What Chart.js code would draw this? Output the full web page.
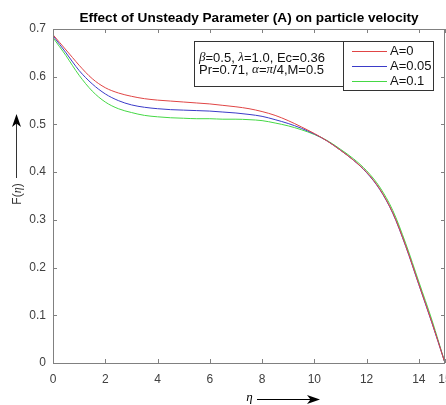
<!DOCTYPE html>
<html><head><meta charset="utf-8">
<script src="https://cdn.jsdelivr.net/npm/chart.js@4/dist/chart.umd.min.js"></script>
<style>html,body{margin:0;padding:0;background:#fff;overflow:hidden}</style>
</head><body>
<canvas id="c" width="446" height="405"></canvas>
<script>
// ---- data ----
const eta   = [0, 0.25, 0.5, 0.75, 1, 1.5, 2, 2.5, 3, 3.5, 4, 4.5, 5, 5.5, 6, 6.5, 7, 7.5, 8, 8.5, 9, 9.5, 10, 10.5, 11, 11.5, 12, 12.5, 13, 13.5, 14, 14.5, 15];
const fA0   = [0.688, 0.672, 0.656, 0.640, 0.624, 0.596, 0.577, 0.566, 0.559, 0.554, 0.551, 0.549, 0.547, 0.545, 0.543, 0.540, 0.537, 0.533, 0.527, 0.519, 0.508, 0.495, 0.481, 0.465, 0.446, 0.425, 0.400, 0.365, 0.315, 0.245, 0.165, 0.085, 0];
const fA005 = [0.686, 0.668, 0.650, 0.631, 0.613, 0.585, 0.564, 0.550, 0.541, 0.536, 0.533, 0.531, 0.530, 0.529, 0.528, 0.526, 0.524, 0.521, 0.517, 0.510, 0.502, 0.492, 0.480, 0.465, 0.446, 0.425, 0.399, 0.364, 0.314, 0.244, 0.164, 0.084, 0];
const fA01  = [0.682, 0.663, 0.644, 0.623, 0.603, 0.570, 0.547, 0.533, 0.525, 0.519, 0.516, 0.514, 0.513, 0.512, 0.512, 0.511, 0.511, 0.510, 0.508, 0.503, 0.497, 0.489, 0.479, 0.466, 0.448, 0.428, 0.403, 0.369, 0.320, 0.250, 0.170, 0.090, 0];
const seriesLabels = ['A=0', 'A=0.05', 'A=0.1'];
const seriesColors = ['#e04545', '#3b3bc8', '#45d845'];
const xTicks = [0, 2, 4, 6, 8, 10, 12, 14, 15];
const yTicks = [0, 0.1, 0.2, 0.3, 0.4, 0.5, 0.6, 0.7];
const titleText = 'Effect of Unsteady Parameter (A) on particle velocity';

const series = [fA0, fA005, fA01];
const datasets = series.map((s, i) => ({
  label: seriesLabels[i],
  data: eta.map((x, k) => ({x: x, y: s[k]})),
  borderColor: seriesColors[i],
  borderWidth: 1,
  pointRadius: 0,
  fill: false,
  cubicInterpolationMode: 'monotone'
}));

const SANS = "'Liberation Sans', Arial, sans-serif";
const SERIF_I = "italic 13px 'Liberation Serif', 'DejaVu Serif', serif";
const AXC = '#808080';

function segs(ctx, list, x, y) {
  for (const s of list) {
    ctx.font = s.f;
    ctx.fillText(s.t, x, y);
    x += ctx.measureText(s.t).width;
  }
}
function segsWidth(ctx, list) {
  let w = 0;
  for (const s of list) { ctx.font = s.f; w += ctx.measureText(s.t).width; }
  return w;
}
function arrowHead(ctx, x, y, angle) {
  ctx.save();
  ctx.translate(x, y);
  ctx.rotate(angle);
  ctx.beginPath();
  ctx.moveTo(0, 0);
  ctx.lineTo(-13, -4.5);
  ctx.lineTo(-9.5, 0);
  ctx.lineTo(-13, 4.5);
  ctx.closePath();
  ctx.fill();
  ctx.restore();
}

const decor = {
  id: 'decor',
  afterDraw(chart) {
    const ctx = chart.ctx;
    const a = chart.chartArea;
    const xs = chart.scales.x, ys = chart.scales.y;
    ctx.save();
    // frame
    ctx.strokeStyle = AXC;
    ctx.lineWidth = 1;
    ctx.strokeRect(Math.round(a.left) + 0.5, Math.round(a.top) + 0.5, Math.round(a.right - a.left) - 1, Math.round(a.bottom - a.top));
    // inward ticks
    ctx.beginPath();
    for (const v of xTicks) {
      const px = Math.round(xs.getPixelForValue(v)) + 0.5;
      ctx.moveTo(px, a.bottom); ctx.lineTo(px, a.bottom - 4);
      ctx.moveTo(px, a.top); ctx.lineTo(px, a.top + 4);
    }
    for (const v of yTicks) {
      const py = Math.round(ys.getPixelForValue(v)) + 0.5;
      ctx.moveTo(a.left, py); ctx.lineTo(a.left + 4, py);
      ctx.moveTo(a.right, py); ctx.lineTo(a.right - 4, py);
    }
    ctx.stroke();

    // parameter annotation box
    ctx.fillStyle = '#fff';
    ctx.fillRect(194.5, 41.5, 149, 45);
    ctx.strokeStyle = '#333';
    ctx.strokeRect(194.5, 41.5, 149, 45);
    ctx.fillStyle = '#111';
    ctx.textBaseline = 'middle';
    ctx.textAlign = 'left';
    const F = '13px ' + SANS;
    segs(ctx, [{t:'\u03B2', f:SERIF_I}, {t:'=0.5, ', f:F}, {t:'\u03BB', f:SERIF_I}, {t:'=1.0, Ec=0.36', f:F}], 199, 58);
    segs(ctx, [{t:'Pr=0.71, ', f:F}, {t:'\u03B1', f:SERIF_I}, {t:'=', f:F}, {t:'\u03C0', f:SERIF_I}, {t:'/4,M=0.5', f:F}], 199, 70);

    // legend box
    ctx.fillStyle = '#fff';
    ctx.fillRect(343.5, 41.5, 90, 49);
    ctx.strokeStyle = '#333';
    ctx.strokeRect(343.5, 41.5, 90, 49);
    const ly = [51.5, 66.5, 81.5];
    chart.data.datasets.forEach((d, i) => {
      ctx.strokeStyle = d.borderColor;
      ctx.lineWidth = 1;
      ctx.beginPath();
      ctx.moveTo(352, ly[i]); ctx.lineTo(387, ly[i]);
      ctx.stroke();
      ctx.fillStyle = '#111';
      ctx.font = F;
      ctx.fillText(d.label, 390, ly[i]);
    });

    // x axis label with arrow
    ctx.fillStyle = '#000';
    ctx.strokeStyle = '#000';
    ctx.font = SERIF_I;
    ctx.textAlign = 'center';
    ctx.fillText('\u03B7', 249.5, 398);
    ctx.beginPath();
    ctx.moveTo(257, 399.5); ctx.lineTo(312, 399.5);
    ctx.stroke();
    arrowHead(ctx, 320, 399.5, 0);

    // y axis label with arrow
    ctx.save();
    ctx.translate(18, 194);
    ctx.rotate(-Math.PI / 2);
    ctx.fillStyle = '#333';
    ctx.textAlign = 'left';
    const yl = [{t:'F(', f:'12px ' + SANS}, {t:'\u03B7', f:"italic 12px 'Liberation Serif', serif"}, {t:')', f:'12px ' + SANS}];
    segs(ctx, yl, -segsWidth(ctx, yl) / 2, 0);
    ctx.restore();
    ctx.fillStyle = '#000';
    ctx.strokeStyle = '#333';
    ctx.beginPath();
    ctx.moveTo(16.5, 178); ctx.lineTo(16.5, 122);
    ctx.stroke();
    arrowHead(ctx, 16.5, 114, -Math.PI / 2);
    ctx.restore();
  }
};

new Chart(document.getElementById('c'), {
  type: 'line',
  data: { datasets: datasets },
  plugins: [decor],
  options: {
    responsive: false,
    animation: false,
    devicePixelRatio: 1,
    layout: { autoPadding: false, padding: { left: 0, right: 1, top: 0, bottom: 0 } },
    plugins: {
      legend: { display: false },
      tooltip: { enabled: false },
      title: {
        display: true,
        text: titleText,
        fullSize: false,
        color: '#000',
        font: { family: SANS, size: 13.6, weight: 'bold', lineHeight: 1.2 },
        padding: { top: 10.5, bottom: 2.2 }
      }
    },
    scales: {
      x: {
        type: 'linear',
        min: 0, max: 15,
        afterBuildTicks: s => { s.ticks = xTicks.map(v => ({value: v})); },
        afterFit: s => { s.height = 42; s.paddingLeft = 0; s.paddingRight = 0; },
        grid: { display: false, drawTicks: false },
        border: { display: false },
        ticks: { color: '#404040', font: { family: SANS, size: 12 }, padding: 9, maxRotation: 0, autoSkip: false }
      },
      y: {
        min: 0, max: 0.7,
        afterBuildTicks: s => { s.ticks = yTicks.map(v => ({value: v})); },
        afterFit: s => { s.width = 53; s.paddingTop = 0; s.paddingBottom = 0; },
        grid: { display: false, drawTicks: false },
        border: { display: false },
        ticks: { color: '#404040', font: { family: SANS, size: 12 }, padding: 7,
          callback: v => (v === 0 ? '0' : v.toFixed(1)) }
      }
    }
  }
});
</script>
</body></html>
